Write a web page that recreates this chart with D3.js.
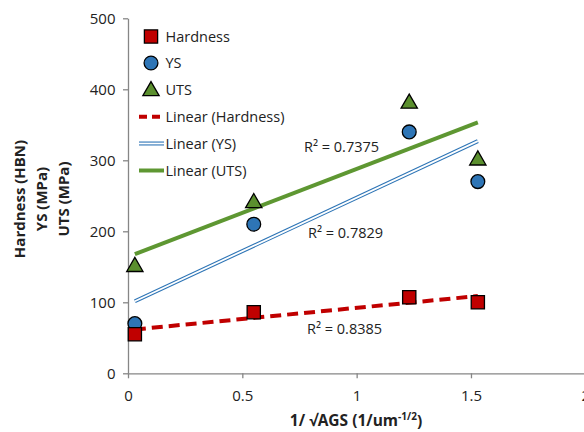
<!DOCTYPE html>
<html><head><meta charset="utf-8">
<script src="https://cdn.jsdelivr.net/npm/d3@7/dist/d3.min.js"></script>
<style>body{margin:0;background:#fff;} svg{display:block;}</style>
</head><body>
<svg id="c" width="584" height="432"></svg>
<script>
const xVals = [0.03, 0.55, 1.23, 1.53];
const hardness = [55, 86, 107, 100];
const ys = [70, 210, 340, 270];
const uts = [150, 240, 380, 300];
const xTicks = [0, 0.5, 1, 1.5, 2];
const yTicks = [0, 100, 200, 300, 400, 500];
const r2Labels = ["R\u00B2 = 0.7375", "R\u00B2 = 0.7829", "R\u00B2 = 0.8385"];
const legendLabels = ["Hardness", "YS", "UTS", "Linear (Hardness)", "Linear (YS)", "Linear (UTS)"];

const FONT = "'Open Sans', sans-serif";
const svg = d3.select("#c");
const x = d3.scaleLinear().domain([0, 2]).range([128, 585.3]);
const y = d3.scaleLinear().domain([0, 500]).range([373.3, 18.3]);
const axisColor = "#868686";
const red = "#C00000", blue = "#2E75B6", green = "#5B8F2E", green2 = "#5E9732";

function fit(xs, vs) {
  const n = xs.length, mx = d3.mean(xs), my = d3.mean(vs);
  let sxy = 0, sxx = 0;
  for (let i = 0; i < n; i++) { sxy += (xs[i]-mx)*(vs[i]-my); sxx += (xs[i]-mx)**2; }
  const m = sxy / sxx, b = my - m*mx;
  const x0 = d3.min(xs), x1 = d3.max(xs);
  return [[x0, m*x0+b], [x1, m*x1+b]];
}
const line = d3.line().x(d => x(d[0])).y(d => y(d[1]));

// axes
const xAxis = svg.append("g").attr("transform", `translate(0,${y(0)})`)
  .call(d3.axisBottom(x).tickValues(xTicks).tickSize(5).tickSizeOuter(0).tickFormat(d3.format("")));
const yAxis = svg.append("g").attr("transform", `translate(${x(0)},0)`)
  .call(d3.axisLeft(y).tickValues(yTicks).tickSize(5).tickSizeOuter(0));
[xAxis, yAxis].forEach(g => {
  g.select(".domain").attr("stroke", axisColor).attr("stroke-width", 1.3);
  g.selectAll(".tick line").attr("stroke", axisColor).attr("stroke-width", 1.3);
  g.selectAll(".tick text").attr("fill", "#222").attr("font-family", FONT).attr("font-size", 15);
});
xAxis.selectAll(".tick text").attr("dy", "1.3em");
yAxis.selectAll(".tick text").attr("dx", "-0.3em");

// trendlines
const fh = fit(xVals, hardness), fy = fit(xVals, ys), fu = fit(xVals, uts);
svg.append("path").attr("d", line(fy)).attr("stroke", blue).attr("stroke-width", 4).attr("fill", "none");
svg.append("path").attr("d", line(fy)).attr("stroke", "#fff").attr("stroke-width", 1.8).attr("fill", "none");
svg.append("path").attr("d", line(fu)).attr("stroke", green2).attr("stroke-width", 4).attr("fill", "none");
svg.append("path").attr("d", line(fh)).attr("stroke", red).attr("stroke-width", 4).attr("fill", "none")
  .attr("stroke-dasharray", "11,6");

// markers
const sq = d3.symbol().type(d3.symbolSquare).size(175);
const ci = d3.symbol().type(d3.symbolCircle).size(150);
const tr = d3.symbol().type(d3.symbolTriangle).size(115);
function markers(vals, sym, fill) {
  svg.append("g").selectAll("path").data(vals).join("path")
    .attr("d", sym).attr("transform", (d, i) => `translate(${x(xVals[i])},${y(d)})`)
    .attr("fill", fill).attr("stroke", "#000").attr("stroke-width", 1.3);
}
markers(ys, ci, blue);
markers(uts, tr, green);
markers(hardness, sq, red);

// R2 labels
const r2Pos = [[304, 147], [308, 233], [307, 329]];
r2Labels.forEach((t, i) => {
  svg.append("text").attr("x", r2Pos[i][0]).attr("y", r2Pos[i][1]).attr("dy", "0.35em")
    .attr("font-family", FONT).attr("font-size", 14.5).attr("fill", "#222").text(t);
});

// legend
const legY = [36.5, 63, 90, 116.7, 143.5, 170.5];
const lg = svg.append("g");
lg.append("path").attr("d", sq).attr("transform", `translate(151,${legY[0]})`).attr("fill", red).attr("stroke", "#000").attr("stroke-width", 1.3);
lg.append("path").attr("d", ci).attr("transform", `translate(151,${legY[1]})`).attr("fill", blue).attr("stroke", "#000").attr("stroke-width", 1.3);
lg.append("path").attr("d", tr).attr("transform", `translate(151,${legY[2]+1})`).attr("fill", green).attr("stroke", "#000").attr("stroke-width", 1.3);
lg.append("line").attr("x1", 139).attr("x2", 164).attr("y1", legY[3]).attr("y2", legY[3]).attr("stroke", red).attr("stroke-width", 4).attr("stroke-dasharray", "8,5");
lg.append("line").attr("x1", 139).attr("x2", 164).attr("y1", legY[4]).attr("y2", legY[4]).attr("stroke", blue).attr("stroke-width", 4);
lg.append("line").attr("x1", 139).attr("x2", 164).attr("y1", legY[4]).attr("y2", legY[4]).attr("stroke", "#fff").attr("stroke-width", 1.8);
lg.append("line").attr("x1", 139).attr("x2", 164).attr("y1", legY[5]).attr("y2", legY[5]).attr("stroke", green2).attr("stroke-width", 4);
legendLabels.forEach((t, i) => {
  lg.append("text").attr("x", 165.5).attr("y", legY[i]).attr("dy", "0.35em")
    .attr("font-family", FONT).attr("font-size", 14.5).attr("fill", "#222").text(t);
});

// axis titles
const yTitle = ["Hardness (HBN)", "YS (MPa)", "UTS (MPa)"];
const yTitleX = [20, 42, 64];
yTitle.forEach((t, i) => {
  svg.append("text").attr("transform", `translate(${yTitleX[i]},199) rotate(-90)`)
    .attr("text-anchor", "middle").attr("dy", "0.35em")
    .attr("font-family", FONT).attr("font-weight", "bold").attr("font-size", 15).attr("fill", "#222").text(t);
});
const xt = svg.append("text").attr("x", 356).attr("y", 421).attr("dy", "0.35em").attr("text-anchor", "middle")
  .attr("font-family", FONT).attr("font-weight", "bold").attr("font-size", 15.5).attr("fill", "#222");
xt.append("tspan").text("1/ \u221AAGS (1/um");
xt.append("tspan").attr("font-size", 10).attr("dy", "-0.6em").text("-1/2");
xt.append("tspan").attr("dy", "0.4em").text(")");
</script>
</body></html>
